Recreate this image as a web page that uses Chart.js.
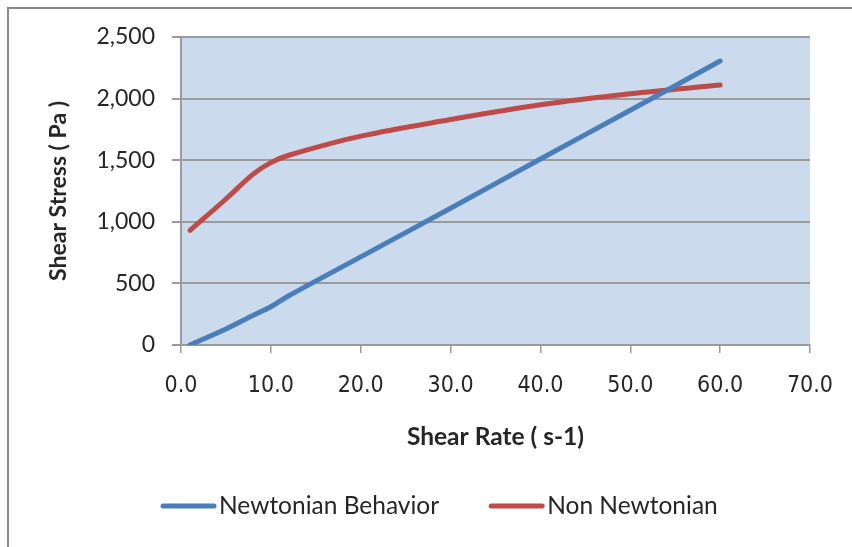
<!DOCTYPE html>
<html>
<head>
<meta charset="utf-8">
<script src="https://cdn.jsdelivr.net/npm/chart.js@4/dist/chart.umd.min.js"></script>
<style>
  html, body { margin: 0; padding: 0; background: #ffffff; }
  #wrap { width: 852px; height: 547px; position: relative; }
</style>
</head>
<body>
<div id="wrap"><canvas id="chart" width="852" height="547"></canvas></div>
<script>
// Shear rate (s-1) and measured shear stress (Pa) for both fluids
const shearRate    = [1, 5, 8, 10, 12, 20, 30, 40, 50, 60];
const newtonian    = [0, 130, 240, 310, 400, 715, 1110, 1510, 1905, 2305];
const nonNewtonian = [930, 1185, 1385, 1480, 1540, 1695, 1830, 1950, 2040, 2110];

const seriesNames  = ['Newtonian Behavior', 'Non Newtonian'];
const xTitle = 'Shear Rate ( s-1)';
const yTitle = 'Shear Stress ( Pa )';

const BLUE = '#4A7EBB';
const RED = '#BE4B48';
const GRID = '#9A9A9A';
const TEXT = '#262626';

const toPoints = (ys) => shearRate.map((x, i) => ({ x: x, y: ys[i] }));

// Page frame and plot background
const frame = {
  id: 'frame',
  beforeDraw(chart) {
    const { ctx, chartArea: a } = chart;
    ctx.save();
    ctx.fillStyle = '#ffffff';
    ctx.fillRect(0, 0, chart.width, chart.height);
    ctx.strokeStyle = '#8A8A8A';
    ctx.lineWidth = 2;
    ctx.strokeRect(8, 8, chart.width + 10, chart.height + 10);
    ctx.fillStyle = '#CBDAEC';
    ctx.fillRect(a.left, a.top, a.right - a.left, a.bottom - a.top);
    ctx.restore();
  }
};

// Legend with a short line sample before each series name
const lineLegend = {
  id: 'lineLegend',
  afterDraw(chart) {
    const { ctx } = chart;
    const y = 506;
    const lineLen = 55, gap = 3, itemGap = 50;
    ctx.save();
    ctx.font = '24.5px Lato, "Open Sans", sans-serif';
    ctx.textBaseline = 'middle';
    let x = 161;
    chart.data.datasets.forEach((d) => {
      const w = ctx.measureText(d.label).width;
      ctx.strokeStyle = d.borderColor;
      ctx.lineWidth = 5;
      ctx.lineCap = 'round';
      ctx.beginPath();
      ctx.moveTo(x + 2, y);
      ctx.lineTo(x + lineLen - 2, y);
      ctx.stroke();
      ctx.fillStyle = TEXT;
      ctx.fillText(d.label, x + lineLen + gap, y);
      x += lineLen + gap + w + itemGap;
    });
    ctx.restore();
  }
};

new Chart(document.getElementById('chart'), {
  type: 'scatter',
  data: {
    datasets: [
      {
        label: seriesNames[0],
        data: toPoints(newtonian),
        showLine: true,
        borderColor: BLUE,
        backgroundColor: BLUE,
        borderWidth: 5,
        pointRadius: 0,
        tension: 0.35,
        borderCapStyle: 'round'
      },
      {
        label: seriesNames[1],
        data: toPoints(nonNewtonian),
        showLine: true,
        borderColor: RED,
        backgroundColor: RED,
        borderWidth: 5,
        pointRadius: 0,
        tension: 0.35,
        borderCapStyle: 'round'
      }
    ]
  },
  options: {
    responsive: false,
    animation: false,
    devicePixelRatio: 1,
    layout: { padding: { left: 30, right: 41, top: 37, bottom: 80 } },
    plugins: {
      legend: { display: false },
      tooltip: { enabled: false }
    },
    scales: {
      x: {
        type: 'linear',
        min: 0,
        max: 70,
        afterFit(scale) { scale.height = 122; },
        ticks: {
          stepSize: 10,
          padding: 19,
          color: TEXT,
          font: { family: '"DejaVu Sans Condensed", "Liberation Sans", sans-serif', size: 23 },
          callback: (v) => Number(v).toFixed(1),
          maxRotation: 0
        },
        grid: {
          drawOnChartArea: false,
          drawTicks: true,
          tickLength: 8,
          color: GRID,
          lineWidth: 1.5
        },
        border: { display: true, color: GRID, width: 2 },
        title: {
          display: true,
          text: xTitle,
          color: TEXT,
          font: { family: 'Lato, "Open Sans", sans-serif', size: 24.5, weight: 'bold' },
          padding: { top: 0, bottom: 15 }
        }
      },
      y: {
        min: 0,
        max: 2500,
        afterFit(scale) { scale.width = 151; },
        ticks: {
          stepSize: 500,
          padding: 17,
          color: TEXT,
          font: { family: 'Lato, "Open Sans", sans-serif', size: 23 },
          callback: (v) => Number(v).toLocaleString('en-US')
        },
        grid: {
          drawOnChartArea: true,
          drawTicks: true,
          tickLength: 9,
          color: GRID,
          lineWidth: 2
        },
        border: { display: true, color: GRID, width: 2 },
        title: {
          display: true,
          text: yTitle,
          color: TEXT,
          font: { family: 'Lato, "Open Sans", sans-serif', size: 23, weight: 'bold' },
          padding: { top: 15, bottom: 0 }
        }
      }
    }
  },
  plugins: [frame, lineLegend]
});
</script>
</body>
</html>
